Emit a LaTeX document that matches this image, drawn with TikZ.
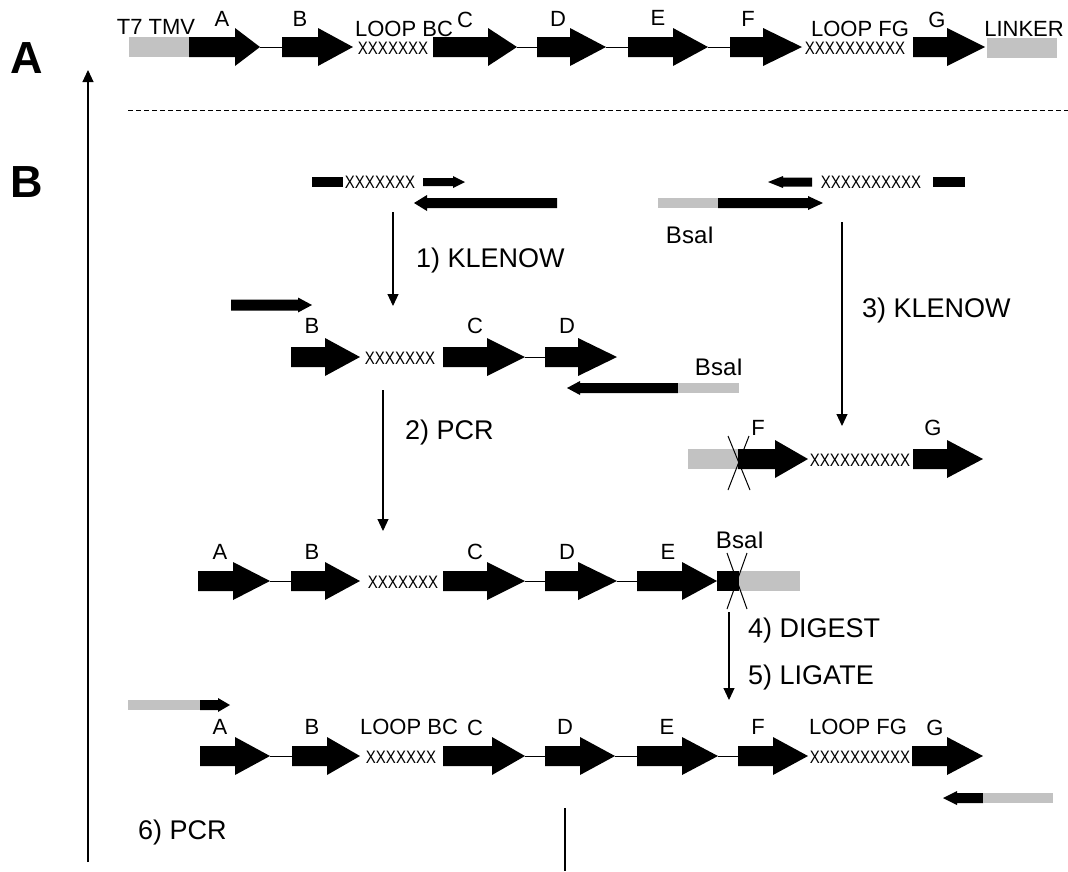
\documentclass[tikz,border=0pt]{standalone}
\usepackage{fontspec}
\setmainfont{Liberation Sans}
\usetikzlibrary{arrows.meta}
% gene / strand arrow: start, head start, tip, y, body half height, head half height
\newcommand{\strand}[6]{\fill[black] (#1,#4-#5) -- (#2,#4-#5) -- (#2,#4-#6) -- (#3,#4) -- (#2,#4+#6) -- (#2,#4+#5) -- (#1,#4+#5) -- cycle;}
\newcommand{\gene}[4]{\strand{#1}{#2}{#3}{#4}{10}{19}}
\newcommand{\shadebox}[4]{\fill[black!24] (#1,#3-#4) rectangle (#2,#3+#4);}
\newcommand{\blackbox}[4]{\fill[black] (#1,#3-#4) rectangle (#2,#3+#4);}
\newcommand{\loopx}[1]{\scalebox{1}[1.2]{#1}}
\begin{document}
\begin{tikzpicture}[x=1pt,y=-1pt,
  glbl/.style={font=\fontsize{22}{22}\selectfont, inner sep=0pt},
  xs/.style={font=\fontsize{15}{15}\selectfont, inner sep=0pt},
  steplbl/.style={font=\fontsize{27}{27}\selectfont, anchor=west, inner sep=0pt, text depth=0pt},
  panel/.style={font=\bfseries\fontsize{45}{45}\selectfont, inner sep=0pt},
  bsa/.style={font=\fontsize{24}{24}\selectfont, inner sep=0pt},
  conn/.style={line width=1.1pt, -{Triangle[length=12pt,width=11pt]}},
  link/.style={line width=1pt}]
\useasboundingbox (0,0) rectangle (1068,871);
\fill[white] (0,0) rectangle (1068,871);

% panel labels and axis
\node[panel] (pA) at (27,58) {A};
\node[panel] (pB) at (27,182) {B};
\coordinate (ax0) at (88,862);
\coordinate (ax1) at (88,70);
\draw[conn] (ax0) -- (ax1);
\coordinate (d0) at (128,110);
\coordinate (d1) at (1068,110);
\draw[line width=0.9pt, dash pattern=on 5pt off 3pt] (d0) -- (d1);

% ---------------- Row A (y=47)
\shadebox{129}{189}{47}{10}
\gene{189}{235}{260}{47}
\draw[link] (260,47) -- (282,47);
\gene{282}{318}{353}{47}
\node[xs] (r1x1) at (393,48) {\loopx{XXXXXXX}};
\gene{433}{488}{517}{47}
\draw[link] (517,47) -- (537,47);
\gene{537}{570}{606}{47}
\draw[link] (606,47) -- (628,47);
\gene{628}{673}{708}{47}
\draw[link] (708,47) -- (730,47);
\gene{730}{763}{802}{47}
\node[xs] (r1x2) at (855,48) {\loopx{XXXXXXXXXX}};
\gene{913}{947}{985}{47}
\shadebox{987}{1057}{48}{10}
\node[glbl] (r1t7) at (156,27) {T7 TMV};
\node[glbl] (r1A) at (222,19) {A};
\node[glbl] (r1B) at (300,19) {B};
\node[glbl] (r1lbc) at (404,29) {LOOP BC};
\node[glbl] (r1C) at (465,20) {C};
\node[glbl] (r1D) at (558,19) {D};
\node[glbl] (r1E) at (658,18) {E};
\node[glbl] (r1F) at (748,19) {F};
\node[glbl] (r1lfg) at (860,29) {LOOP FG};
\node[glbl] (r1G) at (937,20) {G};
\node[glbl] (r1lk) at (1024,29) {LINKER};

% ---------------- Row B1
\blackbox{312}{343}{182}{5}
\node[xs] (b1x) at (380,182) {\loopx{XXXXXXX}};
\strand{423}{453}{465}{182}{4}{6}
\strand{557}{427}{414}{203}{5}{8}
\strand{812}{783}{768}{182}{4.5}{6}
\node[xs] (b1x2) at (871,182) {\loopx{XXXXXXXXXX}};
\blackbox{933}{965}{182}{5}
\shadebox{658}{718}{203}{5}
\strand{718}{808}{823}{203}{5}{7}
\node[bsa] (bsa1) at (690,235) {BsaI};
\node[steplbl] (s1) at (416,258) {1) KLENOW};
\node[steplbl] (s3) at (862,308) {3) KLENOW};
\coordinate (a1s) at (393,212);
\coordinate (a1e) at (393,306);
\draw[conn] (a1s) -- (a1e);
\coordinate (a3s) at (842,222);
\coordinate (a3e) at (842,426);
\draw[conn] (a3s) -- (a3e);

% ---------------- Row B2 (y=357)
\strand{231}{298}{312}{305}{5.5}{7.5}
\node[glbl] (r2B) at (312,326) {B};
\node[glbl] (r2C) at (475,326) {C};
\node[glbl] (r2D) at (567,326) {D};
\gene{291}{325}{360}{357}
\node[xs] (r2x) at (400,358) {\loopx{XXXXXXX}};
\gene{443}{487}{525}{357}
\draw[link] (525,357) -- (545,357);
\gene{545}{578}{617}{357}
\strand{678}{580}{567}{388}{5}{7}
\shadebox{678}{739}{388}{5}
\node[bsa] (bsa2) at (719,367) {BsaI};
\node[steplbl] (s2) at (405,430) {2) PCR};
\coordinate (a2s) at (383,390);
\coordinate (a2e) at (383,531);
\draw[conn] (a2s) -- (a2e);

% ---------------- Row FG (y=459)
\shadebox{688}{738}{459}{10}
\gene{738}{775}{808}{459}
\node[xs] (fgx) at (860,460) {\loopx{XXXXXXXXXX}};
\gene{913}{947}{983}{459}
\draw[line width=1pt] (728,436) -- (750,490);
\draw[line width=1pt] (749,436) -- (728,490);
\node[glbl] (fgF) at (758,428) {F};
\node[glbl] (fgG) at (933,428) {G};

% ---------------- Row B3 (y=581)
\node[glbl] (r3A) at (220,552) {A};
\node[glbl] (r3B) at (312,552) {B};
\node[glbl] (r3C) at (475,552) {C};
\node[glbl] (r3D) at (567,552) {D};
\node[glbl] (r3E) at (668,552) {E};
\node[bsa] (bsa3) at (740,540) {BsaI};
\gene{198}{233}{270}{581}
\draw[link] (270,581) -- (291,581);
\gene{291}{325}{360}{581}
\node[xs] (r3x) at (403,582) {\loopx{XXXXXXX}};
\gene{443}{487}{525}{581}
\draw[link] (525,581) -- (545,581);
\gene{545}{578}{617}{581}
\draw[link] (617,581) -- (637,581);
\gene{637}{682}{717}{581}
\blackbox{717}{739}{581}{10}
\shadebox{739}{800}{581}{10}
\draw[line width=1pt] (727,553) -- (747,609);
\draw[line width=1pt] (747,553) -- (727,609);
\node[steplbl] (s4) at (748,628) {4) DIGEST};
\node[steplbl] (s5) at (748,675) {5) LIGATE};
\coordinate (a4s) at (729,612);
\coordinate (a4e) at (729,700);
\draw[conn] (a4s) -- (a4e);

% ---------------- Row B4 (y=756)
\shadebox{128}{200}{705}{5}
\strand{200}{218}{230}{705}{5}{7}
\node[glbl] (r4A) at (220,727) {A};
\node[glbl] (r4B) at (312,727) {B};
\node[glbl] (r4lbc) at (409,727) {LOOP BC};
\node[glbl] (r4C) at (475,728) {C};
\node[glbl] (r4D) at (565,727) {D};
\node[glbl] (r4E) at (667,727) {E};
\node[glbl] (r4F) at (758,727) {F};
\node[glbl] (r4lfg) at (858,727) {LOOP FG};
\node[glbl] (r4G) at (935,728) {G};
\gene{200}{235}{270}{756}
\draw[link] (270,756) -- (292,756);
\gene{292}{327}{360}{756}
\node[xs] (r4x1) at (401,757) {\loopx{XXXXXXX}};
\gene{443}{492}{525}{756}
\draw[link] (525,756) -- (545,756);
\gene{545}{580}{615}{756}
\draw[link] (615,756) -- (637,756);
\gene{637}{682}{718}{756}
\draw[link] (718,756) -- (738,756);
\gene{738}{773}{808}{756}
\node[xs] (r4x2) at (860,757) {\loopx{XXXXXXXXXX}};
\gene{912}{947}{983}{756}
\strand{983}{957}{943}{798}{5}{7}
\shadebox{983}{1053}{798}{5}

% ---------------- bottom
\node[steplbl] (s6) at (138,830) {6) PCR};
\coordinate (b0) at (565,808);
\coordinate (b1) at (565,871);
\draw[line width=1.1pt] (b0) -- (b1);
\end{tikzpicture}
\end{document}
